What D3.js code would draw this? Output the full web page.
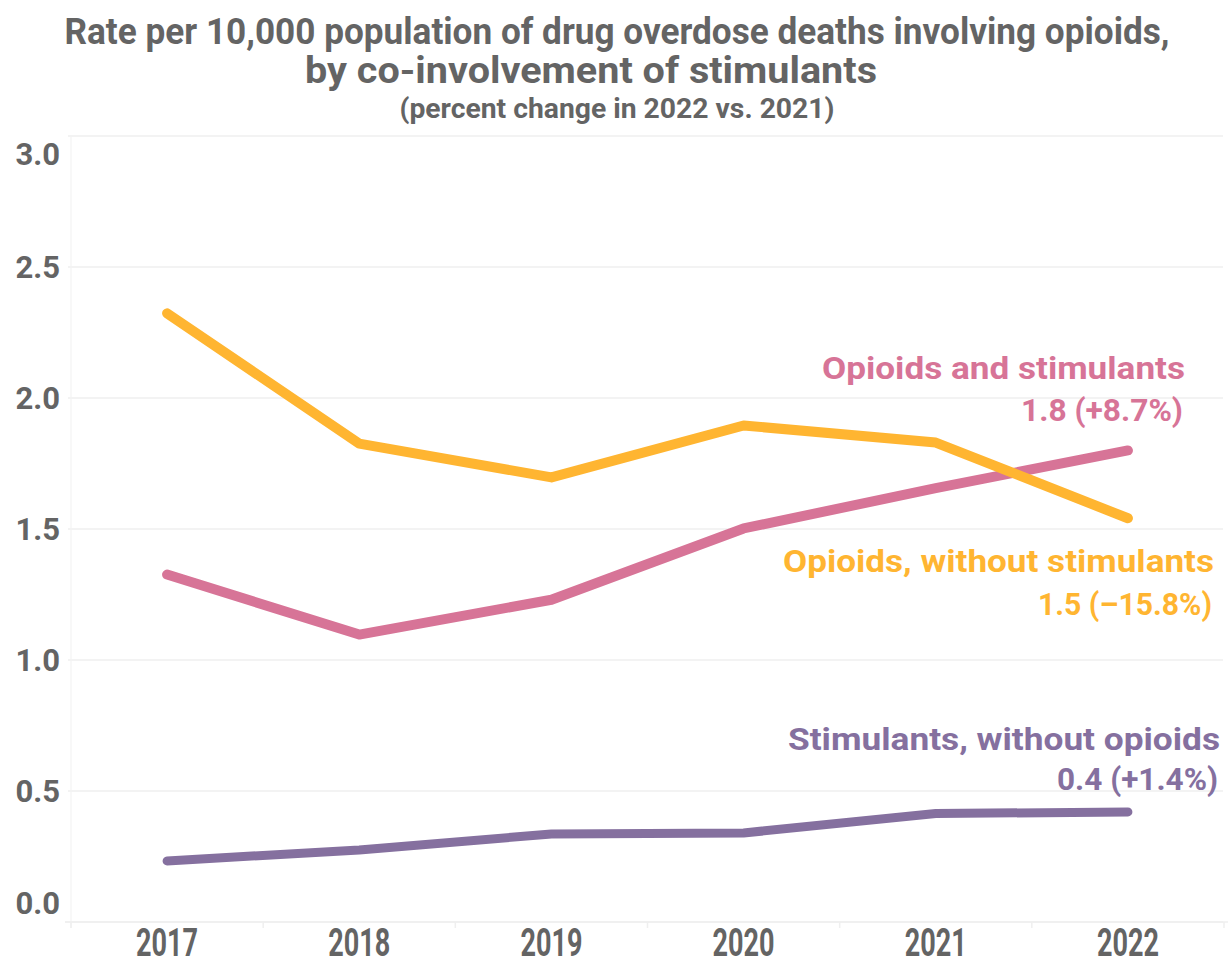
<!DOCTYPE html>
<html>
<head>
<meta charset="utf-8">
<script src="https://cdn.jsdelivr.net/npm/d3@7"></script>
<style>
  html, body { margin: 0; padding: 0; background: #ffffff; }
  svg { display: block; }
  text { font-family: Roboto, "Liberation Sans", sans-serif; font-weight: 700; }
</style>
</head>
<body>
<svg id="chart" width="1230" height="966"></svg>
<script>
// Overdose death rates per 10,000 population, 2017-2022
const years = ["2017", "2018", "2019", "2020", "2021", "2022"];
const opioidsAndStimulants = [1.326, 1.097, 1.230, 1.502, 1.656, 1.80];
const opioidsWithoutStimulants = [2.323, 1.826, 1.697, 1.895, 1.830, 1.541];
const stimulantsWithoutOpioids = [0.233, 0.275, 0.336, 0.340, 0.414, 0.420];
const seriesNames = ["Opioids and stimulants", "Opioids, without stimulants", "Stimulants, without opioids"];
const pctChange = [8.7, -15.8, 1.4];
const yTicks = [0, 0.5, 1.0, 1.5, 2.0, 2.5, 3.0];
const titleLines = [
  "Rate per 10,000 population of drug overdose deaths involving opioids,",
  "by co-involvement of stimulants",
  "(percent change in 2022 vs. 2021)"
];

const svg = d3.select("#chart");
const textColor = "#646464";
const gridColor = "#efefef";
const colors = ["#d77497", "#ffb531", "#85709f"];

const plot = { left: 71, right: 1224, top: 136, bottom: 922 };

const x = d3.scaleBand().domain(years).range([plot.left, plot.right]).padding(0);
const y = d3.scaleLinear().domain([0, 3]).range([plot.bottom, plot.top]);
const cx = d => x(d) + x.bandwidth() / 2;

// Title
const titleSpecs = [
  { cx: 617, y: 44, size: 36, w: 1105 },
  { cx: 591, y: 83, size: 36, w: 572 },
  { cx: 617, y: 118, size: 27, w: 435 }
];
svg.append("g").selectAll("text")
  .data(titleLines)
  .join("text")
  .attr("x", (d, i) => titleSpecs[i].cx)
  .attr("y", (d, i) => titleSpecs[i].y)
  .attr("text-anchor", "middle")
  .attr("font-size", (d, i) => titleSpecs[i].size)
  .attr("textLength", (d, i) => titleSpecs[i].w)
  .attr("lengthAdjust", "spacingAndGlyphs")
  .attr("fill", textColor)
  .text(d => d);

// Horizontal gridlines
svg.append("g").selectAll("line")
  .data(yTicks)
  .join("line")
  .attr("x1", d => d === 0 ? 65 : 68)
  .attr("x2", 1223)
  .attr("y1", d => y(d))
  .attr("y2", d => y(d))
  .attr("stroke", gridColor)
  .attr("stroke-width", 1.5);

// Left plot edge
svg.append("line")
  .attr("x1", plot.left).attr("x2", plot.left)
  .attr("y1", plot.top).attr("y2", plot.bottom + 6)
  .attr("stroke", "#f4f4f4").attr("stroke-width", 1.2);

// Y axis labels (end labels kept inside the plot span)
const yAxis = d3.axisLeft(y).tickValues(yTicks).tickFormat(d3.format(".1f")).tickSize(0).tickPadding(11);
const yg = svg.append("g").attr("transform", `translate(${plot.left},0)`).call(yAxis);
yg.select(".domain").remove();
yg.selectAll(".tick")
  .attr("transform", d => {
    let p = y(d);
    if (d === 3) p = plot.top + 18;
    if (d === 0) p = plot.bottom - 19;
    return `translate(0,${p})`;
  });
yg.selectAll("text")
  .attr("font-family", "Roboto, sans-serif")
  .attr("font-weight", 700)
  .attr("font-size", 31)
  .attr("fill", textColor)
  .attr("dy", "0.36em");

// X axis with ticks at category boundaries
const xg = svg.append("g").attr("transform", `translate(0,${plot.bottom})`);
xg.append("line")
  .attr("x1", plot.left - 6).attr("x2", plot.right + 4)
  .attr("y1", 0).attr("y2", 0)
  .attr("stroke", gridColor).attr("stroke-width", 1.5);
xg.selectAll("line.tick")
  .data(years.concat(["end"]))
  .join("line")
  .attr("class", "tick")
  .attr("x1", (d, i) => i < years.length ? x(d) : plot.right)
  .attr("x2", (d, i) => i < years.length ? x(d) : plot.right)
  .attr("y1", 0).attr("y2", 6)
  .attr("stroke", gridColor).attr("stroke-width", 1.5);
xg.selectAll("text")
  .data(years)
  .join("text")
  .attr("x", d => cx(d))
  .attr("y", 34)
  .attr("text-anchor", "middle")
  .attr("font-size", 38)
  .attr("textLength", 62)
  .attr("lengthAdjust", "spacingAndGlyphs")
  .attr("fill", textColor)
  .text(d => d);

// Lines
const seriesValues = [opioidsAndStimulants, opioidsWithoutStimulants, stimulantsWithoutOpioids];
const line = d3.line().x((d, i) => cx(years[i])).y(d => y(d));
svg.append("g").selectAll("path")
  .data(seriesValues)
  .join("path")
  .attr("d", d => line(d))
  .attr("fill", "none")
  .attr("stroke", (d, i) => colors[i])
  .attr("stroke-width", (d, i) => i === 2 ? 9 : 10)
  .attr("stroke-linecap", "round")
  .attr("stroke-linejoin", "round");

// Series annotations at the right
const annSpecs = [
  { x: 1185, y1: 379, y2: 421, w1: 363, w2: 162 },
  { x: 1214, y1: 572, y2: 615, w1: 431, w2: 174 },
  { x: 1220, y1: 750, y2: 790, w1: 432, w2: 161 }
];
const fmtPct = v => (v > 0 ? "+" : "\u2013") + Math.abs(v).toFixed(1) + "%";
const ann = svg.append("g").selectAll("g")
  .data(seriesNames)
  .join("g");
ann.append("text")
  .attr("x", (d, i) => annSpecs[i].x)
  .attr("y", (d, i) => annSpecs[i].y1)
  .attr("text-anchor", "end")
  .attr("font-size", 32)
  .attr("textLength", (d, i) => annSpecs[i].w1)
  .attr("lengthAdjust", "spacingAndGlyphs")
  .attr("fill", (d, i) => colors[i])
  .text(d => d);
ann.append("text")
  .attr("x", (d, i) => annSpecs[i].x - 2)
  .attr("y", (d, i) => annSpecs[i].y2)
  .attr("text-anchor", "end")
  .attr("font-size", 32)
  .attr("textLength", (d, i) => annSpecs[i].w2)
  .attr("lengthAdjust", "spacingAndGlyphs")
  .attr("fill", (d, i) => colors[i])
  .text((d, i) => {
    const vals = seriesValues[i];
    return d3.format(".1f")(vals[vals.length - 1]) + " (" + fmtPct(pctChange[i]) + ")";
  });
</script>
</body>
</html>
